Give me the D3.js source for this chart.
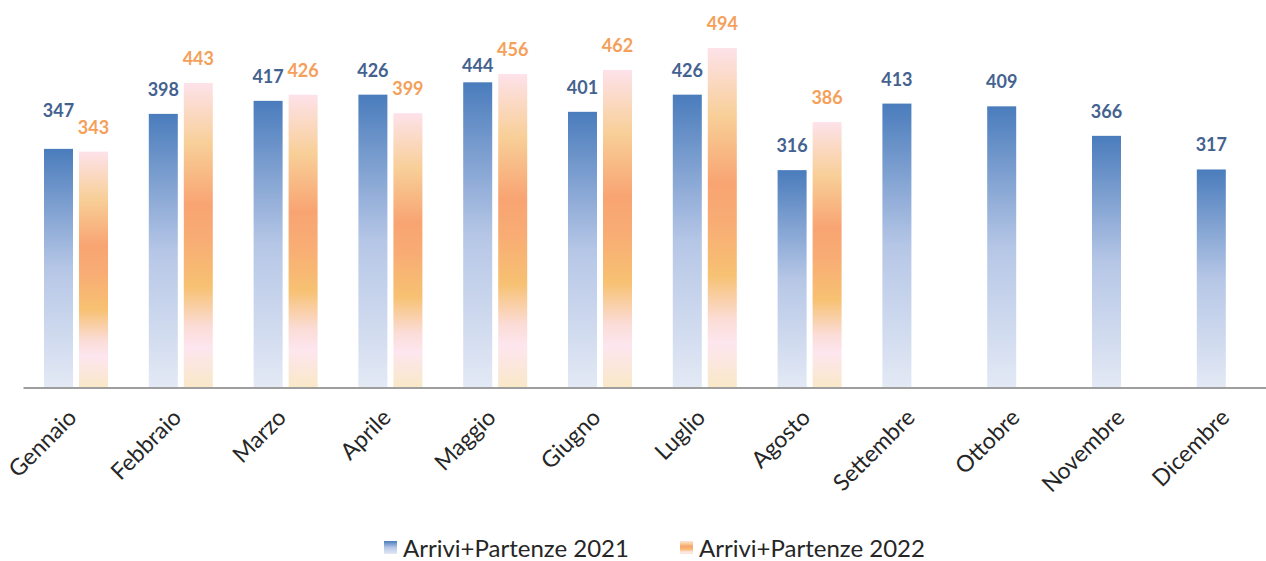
<!DOCTYPE html>
<html>
<head>
<meta charset="utf-8">
<script src="https://cdn.jsdelivr.net/npm/d3@7"></script>
<style>
  body { margin: 0; background: #fff; }
  svg { display: block; }
</style>
</head>
<body>
<div class="chart"></div>
<script>
const width = 1266;
const height = 561;

const months = ["Gennaio", "Febbraio", "Marzo", "Aprile", "Maggio", "Giugno",
  "Luglio", "Agosto", "Settembre", "Ottobre", "Novembre", "Dicembre"];
const values2021 = [347, 398, 417, 426, 444, 401, 426, 316, 413, 409, 366, 317];
const values2022 = [343, 443, 426, 399, 456, 462, 494, 386];
const seriesNames = ["Arrivi+Partenze 2021", "Arrivi+Partenze 2022"];

const baseY = 387;
const font = "Lato, 'Open Sans', sans-serif";

const svg = d3.select(".chart").append("svg")
  .attr("width", width)
  .attr("height", height);

// gradients
const defs = svg.append("defs");
const blue = defs.append("linearGradient").attr("id", "gBlue")
  .attr("x1", 0).attr("y1", 0).attr("x2", 0).attr("y2", 1);
[[0, "#4a7cbc"], [0.5, "#b5c6e6"], [1, "#e3e9f5"]].forEach(s =>
  blue.append("stop").attr("offset", s[0]).attr("stop-color", s[1]));

const orange = defs.append("linearGradient").attr("id", "gOrange")
  .attr("x1", 0).attr("y1", 0).attr("x2", 0).attr("y2", 1);
[[0, "#fde2ea"], [0.2, "#f8cf98"], [0.4, "#f8a472"], [0.52, "#f8ad74"],
 [0.67, "#f7c172"], [0.8, "#fbdcd6"], [0.87, "#fde6ef"], [1, "#f9e8c8"]].forEach(s =>
  orange.append("stop").attr("offset", s[0]).attr("stop-color", s[1]));

const x = d3.scaleBand().domain(months).range([23.6, 23.6 + 12 * 104.8]).paddingInner(0).paddingOuter(0);
const y = d3.scaleLinear().domain([0, 494]).range([baseY, 48]);

const barW = 29;
const gap = 6;

function groupLeft(m) {
  return x(m) + x.bandwidth() / 2 - barW - gap / 2;
}

// 2021 bars
svg.append("g").selectAll("rect")
  .data(values2021)
  .join("rect")
  .attr("x", (d, i) => groupLeft(months[i]))
  .attr("y", d => y(d))
  .attr("width", barW)
  .attr("height", d => baseY - y(d))
  .attr("fill", "url(#gBlue)");

// 2022 bars
svg.append("g").selectAll("rect")
  .data(values2022)
  .join("rect")
  .attr("x", (d, i) => groupLeft(months[i]) + barW + gap)
  .attr("y", d => y(d))
  .attr("width", barW)
  .attr("height", d => baseY - y(d))
  .attr("fill", "url(#gOrange)");

// value labels (a couple were nudged by hand in the original)
const nudge2021 = { 0: -14, 4: 8 };
svg.append("g").selectAll("text")
  .data(values2021)
  .join("text")
  .attr("x", (d, i) => groupLeft(months[i]) + barW / 2)
  .attr("y", (d, i) => y(d) - 18 + (nudge2021[i] || 0))
  .attr("text-anchor", "middle")
  .attr("font-family", font)
  .attr("font-size", 18)
  .attr("font-weight", "bold")
  .attr("fill", "#44628f")
  .text(d => d);

svg.append("g").selectAll("text")
  .data(values2022)
  .join("text")
  .attr("x", (d, i) => groupLeft(months[i]) + barW * 1.5 + gap)
  .attr("y", d => y(d) - 18)
  .attr("text-anchor", "middle")
  .attr("font-family", font)
  .attr("font-size", 18)
  .attr("font-weight", "bold")
  .attr("fill", "#f5a05a")
  .text(d => d);

// axis
const axis = svg.append("g").attr("transform", `translate(0,${baseY})`)
  .call(d3.axisBottom(x).tickSize(0).tickPadding(0));
axis.select(".domain").attr("stroke", "#9e9e9e").attr("stroke-width", 2)
  .attr("d", `M23.5,1H${width}`);
axis.selectAll(".tick text")
  .attr("font-family", font)
  .attr("font-size", 23)
  .attr("fill", "#262626")
  .attr("text-anchor", "end")
  .attr("dy", 0)
  .attr("transform", "translate(2,32) rotate(-45)");

// legend
const legend = svg.append("g").attr("font-family", font).attr("font-size", 24).attr("fill", "#262626");
const legendX = [384, 680];
["url(#gBlue)", "url(#gOrange)"].forEach((f, i) => {
  legend.append("rect").attr("x", legendX[i]).attr("y", 541).attr("width", 13).attr("height", 13).attr("fill", f);
  legend.append("text").attr("x", legendX[i] + 19).attr("y", 557).text(seriesNames[i]);
});
</script>
</body>
</html>
